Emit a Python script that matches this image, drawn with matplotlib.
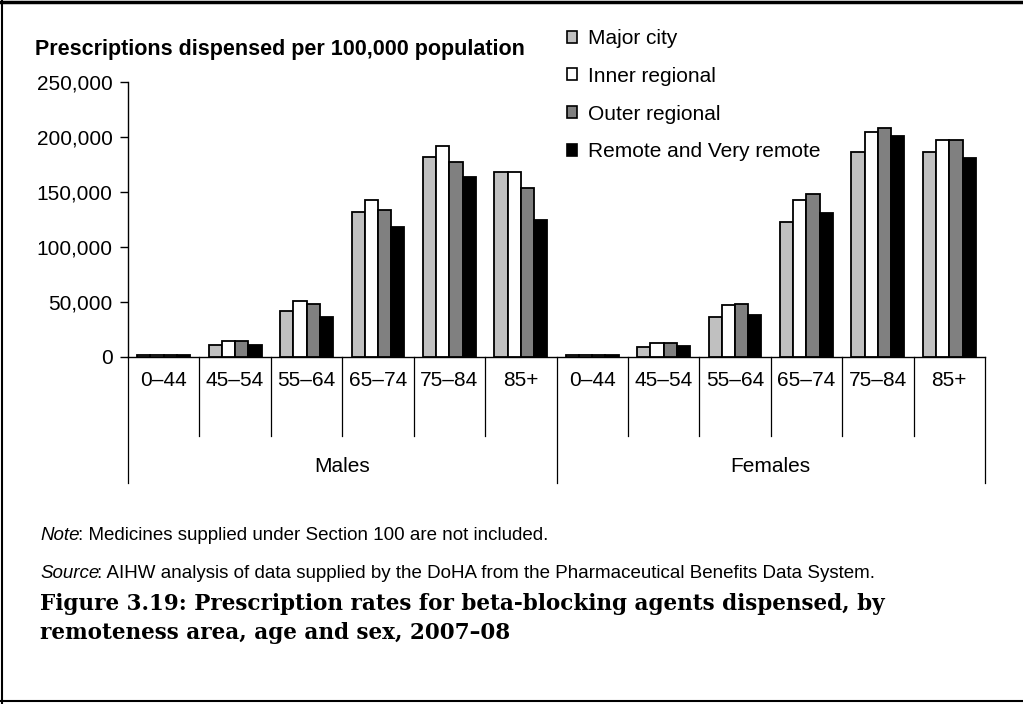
import numpy as np
import matplotlib
matplotlib.use('Agg')
import matplotlib.pyplot as plt
from matplotlib.lines import Line2D
from matplotlib.patches import Patch
from matplotlib.ticker import FuncFormatter
import matplotlib.transforms as mtransforms

plt.rcParams['font.family'] = ['Liberation Sans', 'DejaVu Sans']

ages = ['0–44', '45–54', '55–64', '65–74', '75–84', '85+']
sexes = ['Males', 'Females']
areas = ['Major city', 'Inner regional', 'Outer regional', 'Remote and Very remote']
colors = ['#c0c0c0', '#ffffff', '#808080', '#000000']

# values, ages 0-44 .. 85+, males then females
major_city = [1800, 11000, 41500, 132000, 181500, 168500,
              1600, 9000, 36500, 123000, 186500, 186500]
inner_regional = [1800, 14500, 50500, 143000, 192000, 168500,
                  1600, 13000, 47500, 143000, 204500, 197000]
outer_regional = [1800, 14500, 48500, 134000, 177500, 154000,
                  1600, 13000, 48500, 148500, 208000, 197000]
remote = [1700, 11000, 36500, 118000, 163500, 125000,
          1500, 10000, 38000, 130500, 201000, 181000]
series = [major_city, inner_regional, outer_regional, remote]

W, H = 1023, 704
fig = plt.figure(figsize=(W / 100, H / 100), dpi=100)
ax = fig.add_axes([128 / W, 1 - 357 / H, 857 / W, 275 / H])

n = len(ages) * len(sexes)
x = np.arange(n)
bw = 0.185
for k, (vals, c) in enumerate(zip(series, colors)):
    ax.bar(x + (k - 1.5) * bw, vals, bw, color=c, edgecolor='black',
           linewidth=1.3, label=areas[k], zorder=3)

ax.set_xlim(-0.5, n - 0.5)
ax.set_ylim(0, 250000)
ax.set_yticks(np.arange(0, 250001, 50000))
ax.yaxis.set_major_formatter(FuncFormatter(lambda v, p: f'{int(v):,}'))
ax.tick_params(axis='y', labelsize=15, length=5.8, width=1, direction='out', pad=5.3)
ax.set_xticks([])
for s in ['top', 'right']:
    ax.spines[s].set_visible(False)
ax.spines['left'].set_linewidth(1)
ax.spines['bottom'].set_linewidth(1)

# category box under the axis
trans = mtransforms.blended_transform_factory(ax.transData, ax.transAxes)
for b in np.arange(-0.5, n, 1):
    low = -0.458 if b in (-0.5, 5.5, 11.5) else -0.287
    ax.add_line(Line2D([b, b], [0, low], transform=trans, color='black',
                       linewidth=0.9, clip_on=False))
for i in range(n):
    ax.text(i, -0.085, ages[i % len(ages)], transform=trans, ha='center',
            va='center', fontsize=15)
for j, s in enumerate(sexes):
    ax.text(j * 6 + 2.5, -0.40, s, transform=trans, ha='center', va='center',
            fontsize=15)

fig.text(35 / W, 1 - 49 / H, 'Prescriptions dispensed per 100,000 population',
         fontsize=15.5, fontweight='bold', va='center', ha='left')

handles = [Patch(facecolor=c, edgecolor='black', linewidth=1.2) for c in colors]
fig.legend(handles, areas, loc='upper left', bbox_to_anchor=(567 / W, 1 - 29 / H),
           frameon=False, fontsize=15, handlelength=0.5, handleheight=0.5,
           handletextpad=0.5, labelspacing=0.9, borderpad=0, borderaxespad=0)

# notes with italic lead word
renderer = fig.canvas.get_renderer()
for lead, rest, ypix in [('Note', ': Medicines supplied under Section 100 are not included.', 535),
                         ('Source', ': AIHW analysis of data supplied by the DoHA from the Pharmaceutical Benefits Data System.', 574)]:
    t = fig.text(40 / W, 1 - ypix / H, lead, fontsize=13.5, style='italic', va='center')
    bb = t.get_window_extent(renderer)
    fig.text((bb.x1 - 2) / W, 1 - ypix / H, rest, fontsize=13.5, va='center')

fig.text(40 / W, 1 - 604 / H,
         'Figure 3.19: Prescription rates for beta-blocking agents dispensed, by',
         family=['DejaVu Serif'], fontsize=15.5, fontweight='bold', va='center')
fig.text(40 / W, 1 - 633 / H, 'remoteness area, age and sex, 2007–08',
         family=['DejaVu Serif'], fontsize=15.5, fontweight='bold', va='center')

# page frame
fig.add_artist(Line2D([0, 1], [1 - 1.5 / H, 1 - 1.5 / H], transform=fig.transFigure,
                      color='black', linewidth=2.5))
fig.add_artist(Line2D([1.5 / W, 1.5 / W], [0, 1], transform=fig.transFigure,
                      color='black', linewidth=1.5))
fig.add_artist(Line2D([0, 1], [1 - 701 / H, 1 - 701 / H], transform=fig.transFigure,
                      color='black', linewidth=1.5))

fig.savefig('out.png', dpi=100)
